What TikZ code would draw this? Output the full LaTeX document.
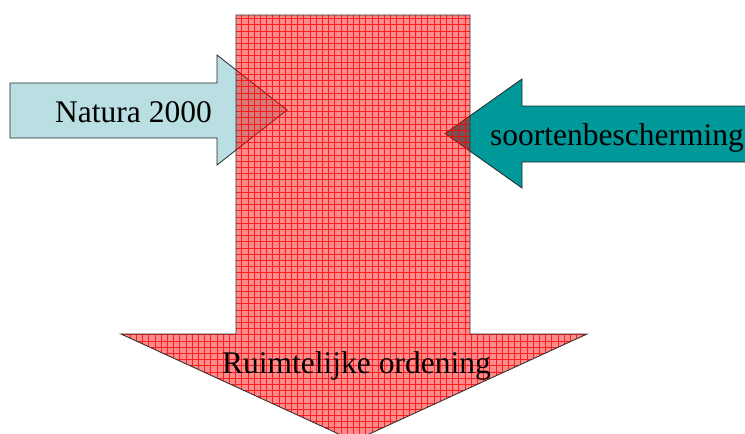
\documentclass[tikz,border=0pt]{standalone}
\usepackage{fontspec}
\setmainfont{Liberation Serif}
\definecolor{natcyan}{RGB}{185,223,227}
\definecolor{soorteal}{RGB}{0,152,152}
\begin{document}
\begin{tikzpicture}[x=1pt,y=-1pt,
 sidearrow/.style={draw=black!85, line width=0.8pt},
 lbl/.style={font=\fontsize{31.5}{36}\selectfont, inner sep=0pt, anchor=base west}]
\clip (0,0) rectangle (745,434);
\path[sidearrow, fill=natcyan] (10,83) -- (217,83) -- (217,55) -- (287,110) -- (217,165) -- (217,138) -- (10,138) -- cycle;
\path[sidearrow, fill=soorteal] (760,106) -- (522,106) -- (522,79) -- (445,133.5) -- (522,188) -- (522,162) -- (760,162) -- cycle;
\node[lbl] (nat) at (55,122) {Natura 2000};
\node[lbl] (soort) at (490,145) {soortenbescherming};
\path[save path=\redarrowpath] (236,15) -- (470,15) -- (470,334) -- (587,334) -- (354,441) -- (121,334) -- (236,334) -- cycle;
\path[fill=red, fill opacity=0.45, use path=\redarrowpath];
\begin{scope}
\path[clip, use path=\redarrowpath];
\draw[red, line width=0.7pt, opacity=0.8] (100,450) grid[step=6.2pt] (600,0);
\end{scope}
\path[draw=black!80, line width=0.9pt, use path=\redarrowpath];
\node[lbl] (ruim) at (222,373) {Ruimtelijke ordening};
\end{tikzpicture}
\end{document}
